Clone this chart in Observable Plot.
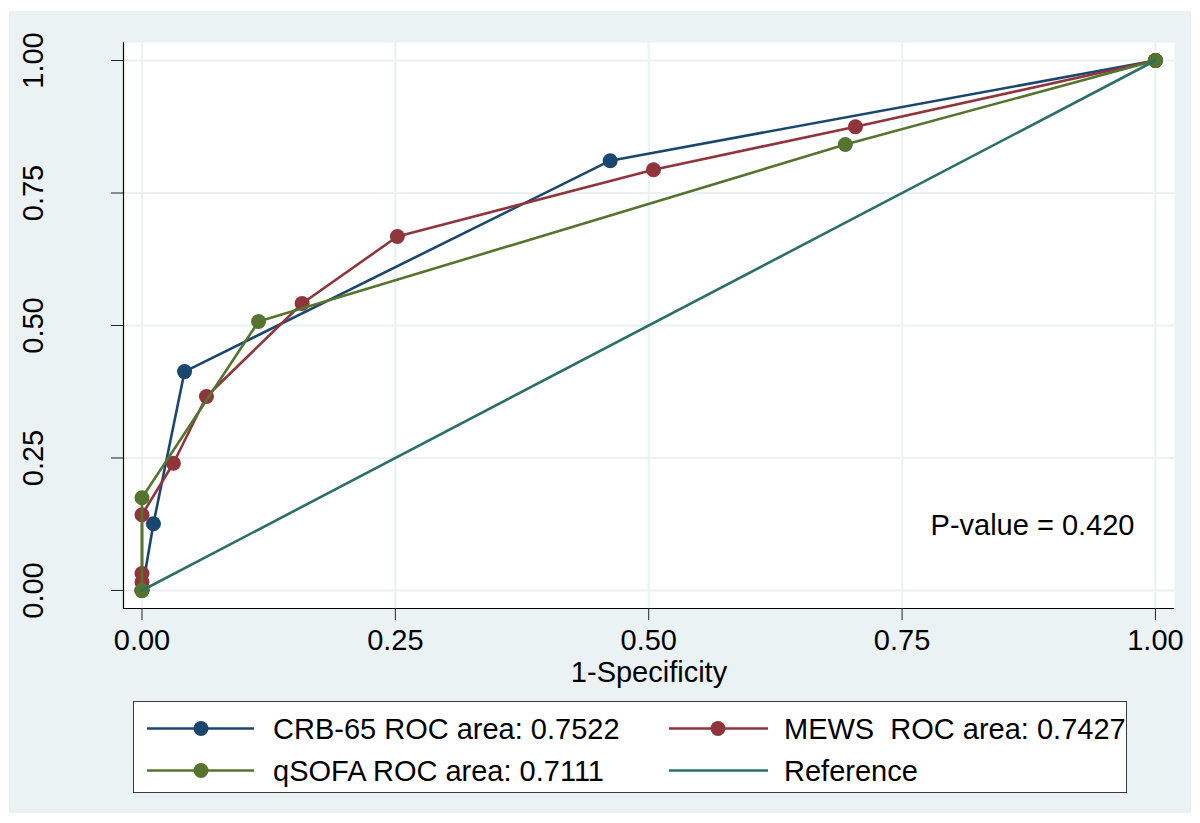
<!DOCTYPE html>
<html>
<head>
<meta charset="utf-8">
<script src="https://cdn.jsdelivr.net/npm/d3@7"></script>
<script src="https://cdn.jsdelivr.net/npm/@observablehq/plot@0.6"></script>
<style>
  html, body { margin: 0; padding: 0; background: white; width: 1200px; height: 823px; overflow: hidden; }
  body { position: relative; font-family: "Liberation Sans", Arial, sans-serif; }
  #bg { position: absolute; left: 9px; top: 11px; width: 1182px; height: 802px; background: #eaf2f3; }
  #chart { position: absolute; left: 0; top: 0; }
  #legend { position: absolute; left: 133px; top: 701px; width: 994px; height: 92px; box-sizing: border-box; border: 1px solid #3a3a3a; background: white; }
  #legend svg { display: block; }
</style>
</head>
<body>
<div id="bg"></div>
<div id="chart"></div>
<div id="legend"></div>
<script>
// ---- data ----
const seriesNames = ["CRB-65 ROC area: 0.7522", "MEWS  ROC area: 0.7427", "qSOFA ROC area: 0.7111", "Reference"];
const seriesColors = ["#1a476f", "#90353b", "#55752f", "#2b7068"];

const crbX = [0, 0.0113, 0.042, 0.462, 1];
const crbY = [0, 0.126, 0.413, 0.811, 1];

const mewsX = [0, 0, 0, 0, 0.031, 0.0636, 0.158, 0.252, 0.5047, 0.704, 1];
const mewsY = [0, 0.016, 0.032, 0.143, 0.24, 0.366, 0.5415, 0.668, 0.794, 0.875, 1];

const qsofaX = [0, 0, 0.115, 0.694, 1];
const qsofaY = [0, 0.175, 0.5075, 0.8415, 1];

const refX = [0, 1];
const refY = [0, 1];

const xTicks = [0, 0.25, 0.5, 0.75, 1];
const yTicks = [0, 0.25, 0.5, 0.75, 1];
const xLabel = "1-Specificity";
const pValueText = "P-value = 0.420";

// ---- build tables ----
function table(name, xs, ys) { return xs.map((x, i) => ({series: name, x, y: ys[i]})); }
const crb = table(seriesNames[0], crbX, crbY);
const mews = table(seriesNames[1], mewsX, mewsY);
const qsofa = table(seriesNames[2], qsofaX, qsofaY);
const ref = table(seriesNames[3], refX, refY);

const xDomain = [-0.01825, 1.0188];
const yDomain = [-0.034, 1.034];
const fmt = d3.format(".2f");
const LW = 2.6, R = 7.5;

const plot = Plot.plot({
  width: 1200,
  height: 690,
  marginLeft: 123,
  marginRight: 26,
  marginTop: 42,
  marginBottom: 82,
  style: {background: "transparent", fontSize: "29px", fontFamily: "'Liberation Sans', Arial, sans-serif", color: "black"},
  x: {domain: xDomain, axis: null, label: null},
  y: {domain: yDomain, axis: null, label: null},
  marks: [
    Plot.frame({fill: "white", stroke: "none"}),
    Plot.gridX({ticks: xTicks, stroke: "#eaf2f3", strokeOpacity: 1, strokeWidth: 2.2}),
    Plot.gridY({ticks: yTicks, stroke: "#eaf2f3", strokeOpacity: 1, strokeWidth: 2.2}),
    Plot.ruleX([xDomain[0]], {stroke: "black", strokeWidth: 1.2}),
    Plot.ruleY([yDomain[0]], {stroke: "black", strokeWidth: 1.2}),
    Plot.axisX({ticks: xTicks, tickSize: 12, tickPadding: 9, tickFormat: fmt, stroke: "#222", label: null}),
    Plot.axisY({ticks: yTicks, tickSize: 12, tickFormat: () => "", stroke: "#222", label: null}),
    Plot.text(yTicks, {x: xDomain[0], y: d => d, text: d => fmt(d), rotate: -90, dx: -81, lineAnchor: "bottom", textAnchor: "middle", fill: "black"}),
    Plot.text([xLabel], {frameAnchor: "bottom", dy: 73, lineAnchor: "bottom", textAnchor: "middle", fill: "black"}),
    // CRB-65
    Plot.line(crb, {x: "x", y: "y", stroke: seriesColors[0], strokeWidth: LW}),
    Plot.dot(crb, {x: "x", y: "y", r: R, fill: seriesColors[0], stroke: "none"}),
    // MEWS
    Plot.line(mews, {x: "x", y: "y", stroke: seriesColors[1], strokeWidth: LW}),
    Plot.dot(mews, {x: "x", y: "y", r: R, fill: seriesColors[1], stroke: "none"}),
    // qSOFA
    Plot.line(qsofa, {x: "x", y: "y", stroke: seriesColors[2], strokeWidth: LW}),
    Plot.dot(qsofa, {x: "x", y: "y", r: R, fill: seriesColors[2], stroke: "none"}),
    // Reference
    Plot.line(ref, {x: "x", y: "y", stroke: seriesColors[3], strokeWidth: LW}),
    Plot.text([pValueText], {frameAnchor: "bottom-right", dx: -40, dy: -74, lineAnchor: "bottom", textAnchor: "end", fill: "black"})
  ]
});
document.getElementById("chart").appendChild(plot);

// ---- legend ----
const legendItems = [
  {name: seriesNames[0], color: seriesColors[0], marker: true, col: 0, row: 0},
  {name: seriesNames[1], color: seriesColors[1], marker: true, col: 1, row: 0},
  {name: seriesNames[2], color: seriesColors[2], marker: true, col: 0, row: 1},
  {name: seriesNames[3], color: seriesColors[3], marker: false, col: 1, row: 1}
];
const cols = [{x0: 13, x1: 120, xm: 67, xt: 139}, {x0: 535, x1: 634, xm: 584, xt: 650}];
const rows = [{yl: 26.5, yt: 37}, {yl: 68.5, yt: 79}];
const lsvg = d3.select("#legend").append("svg").attr("width", 992).attr("height", 90);
for (const it of legendItems) {
  const c = cols[it.col], r = rows[it.row];
  lsvg.append("line").attr("x1", c.x0).attr("x2", c.x1).attr("y1", r.yl).attr("y2", r.yl)
    .attr("stroke", it.color).attr("stroke-width", LW);
  if (it.marker) lsvg.append("circle").attr("cx", c.xm).attr("cy", r.yl).attr("r", R).attr("fill", it.color);
  lsvg.append("text").attr("x", c.xt).attr("y", r.yt).attr("font-size", 29)
    .attr("font-family", "'Liberation Sans', Arial, sans-serif").style("white-space", "pre")
    .attr("fill", "black").text(it.name);
}
</script>
</body>
</html>
